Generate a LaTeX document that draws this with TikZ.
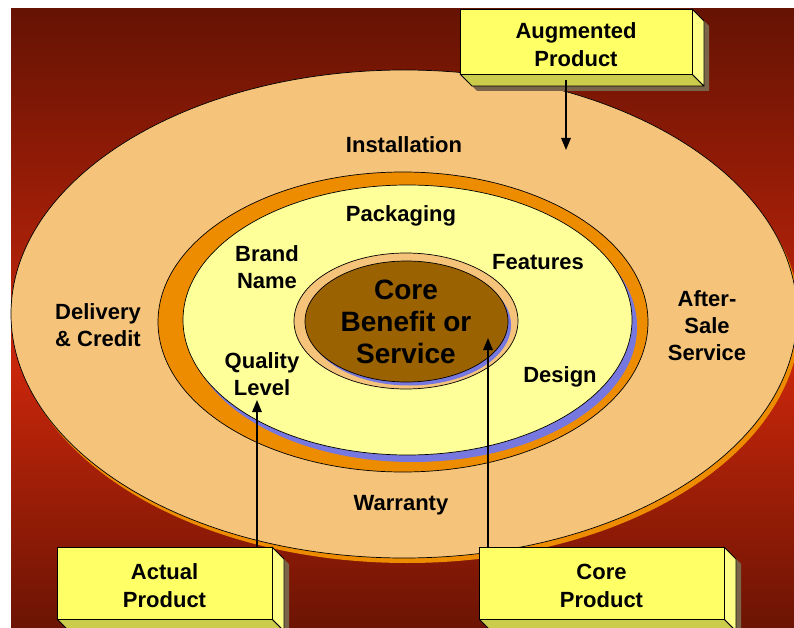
\documentclass[tikz,border=0pt]{standalone}
\usepackage{fontspec}
\setmainfont{Liberation Sans}
\usetikzlibrary{arrows.meta,calc}
\pgfdeclarelayer{back}
\pgfdeclarelayer{mid}
\pgfsetlayers{back,mid,main}
\definecolor{bgtop}{HTML}{661304}
\definecolor{bgmid}{HTML}{C8260A}
\definecolor{bgbot}{HTML}{6C1404}
\definecolor{peach}{HTML}{F5C47A}
\definecolor{orangec}{HTML}{EE8C00}
\definecolor{yellowc}{HTML}{FFFF99}
\definecolor{bluec}{HTML}{7777E0}
\definecolor{brownc}{HTML}{9A6200}
\definecolor{boxfront}{HTML}{FFFF66}
\definecolor{boxbottom}{HTML}{CCCC4C}
\definecolor{boxside}{HTML}{FFFF88}
\definecolor{boxshadow}{HTML}{7A654A}
\pgfdeclareverticalshading{bgshade}{100bp}{color(0bp)=(bgbot); color(25bp)=(bgbot); color(46bp)=(bgmid); color(75bp)=(bgtop); color(100bp)=(bgtop)}
\newcommand{\boxstrut}{\rule{0pt}{22pt}}
\tikzset{
  lbl/.style={font=\bfseries\fontsize{22}{27}\selectfont, align=center, inner sep=0pt},
  corelbl/.style={font=\bfseries\fontsize{28}{32}\selectfont, align=center, inner sep=0pt},
  cubefront/.style={draw=black, line width=0.8pt, fill=boxfront, outer sep=0pt, inner sep=0pt,
    font=\bfseries\fontsize{22}{28}\selectfont, align=center},
  ring/.style={draw=black, line width=0.7pt},
  arr/.style={line width=1.6pt, -{Triangle[width=9.5pt,length=12pt]}},
  face/.style={draw=black, line width=0.8pt, line join=round}
}
\newcommand{\cubefaces}[1]{%
  \fill[boxshadow] ($(#1.north west)+(5,5)$) -- ($(#1.north east)+(5,5)$) -- ($(#1.north east)+(17,17)$) -- ($(#1.south east)+(17,17)$) -- ($(#1.south west)+(17,17)$) -- ($(#1.south west)+(5,5)$) -- cycle;
  \filldraw[face, fill=boxbottom] (#1.south west) -- (#1.south east) -- ($(#1.south east)+(12,12)$) -- ($(#1.south west)+(12,12)$) -- cycle;
  \filldraw[face, fill=boxside] (#1.north east) -- ($(#1.north east)+(12,12)$) -- ($(#1.south east)+(12,12)$) -- (#1.south east) -- cycle;
}
\begin{document}
\begin{tikzpicture}[x=1pt,y=-1pt]
\useasboundingbox (0,0) rectangle (794,628);
\clip (0,0) rectangle (794,628);
\begin{pgfonlayer}{back}
  \shade[shading=bgshade] (11,9) rectangle (794,628);
  \fill[orangec] (407,319) ellipse [x radius=393, y radius=244];
  \filldraw[ring, fill=peach] (404,314) ellipse [x radius=393, y radius=244];
  \filldraw[ring, fill=orangec] (403,322) ellipse [x radius=245, y radius=150];
  \fill[bluec] (412.5,327) ellipse [x radius=224.5, y radius=135];
  \filldraw[ring, fill=yellowc] (407.5,320) ellipse [x radius=224.5, y radius=135];
  \filldraw[ring, fill=peach] (406,321) ellipse [x radius=112, y radius=68];
  \fill[bluec] (409.5,325) ellipse [x radius=101.5, y radius=60.5];
  \filldraw[ring, fill=brownc] (406.5,321.5) ellipse [x radius=101.5, y radius=60.5];
\end{pgfonlayer}

% texts
\node[lbl] (inst) at (404,145) {Installation};
\node[lbl] (pack) at (401,216) {Packaging};
\node[lbl] (brand) at (267,267) {Brand\\Name};
\node[lbl] (feat) at (538,262) {Features};
\node[corelbl] (coretxt) at (406,322) {Core\\Benefit or\\Service};
\node[lbl] (deliv) at (98,325) {Delivery\\\& Credit};
\node[lbl] (after) at (707,326) {After-\\Sale\\Service};
\node[lbl] (qual) at (262,374) {Quality\\Level};
\node[lbl] (design) at (560,377) {Design};
\node[lbl] (warr) at (401,505) {Warranty};

% boxes
\node[cubefront, minimum width=232, minimum height=65] (aug) at (576,41.5) {\boxstrut Augmented\\Product};
\node[cubefront, minimum width=215, minimum height=72] (act) at (164.5,583) {\boxstrut Actual\\Product};
\node[cubefront, minimum width=245, minimum height=72] (core) at (601.5,583) {\boxstrut Core\\Product};
\begin{pgfonlayer}{mid}
  \cubefaces{aug}
  \cubefaces{act}
  \cubefaces{core}
\end{pgfonlayer}

% connectors
\coordinate (augtip) at (566,150);
\coordinate (augstart) at ([yshift=-6pt]aug.south);
\coordinate (qtip) at (257,400);
\coordinate (ctip) at (488,338);
\draw[arr] (augstart -| augtip) -- (augtip);
\draw[arr] (act.north -| qtip) -- (qtip);
\draw[arr] (core.north -| ctip) -- (ctip);
\end{tikzpicture}
\end{document}
